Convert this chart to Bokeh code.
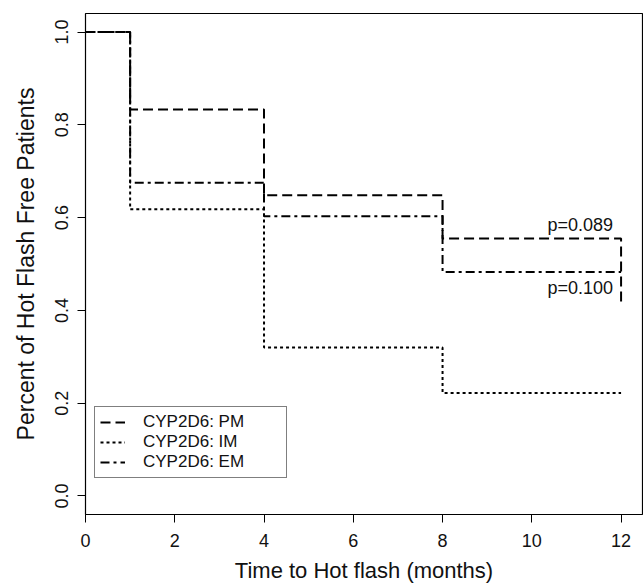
from bokeh.plotting import figure
from bokeh.models import Range1d, FixedTicker, Legend, LegendItem
from bokeh.core.properties import value
from bokeh.embed import file_html
from bokeh.resources import INLINE

# Data (Kaplan-Meier step curves)
times = [0, 1, 4, 8, 12]
pm_surv = [1.0, 0.833, 0.648, 0.555, 0.417]
im_surv = [1.0, 0.618, 0.320, 0.222, 0.222]
em_surv = [1.0, 0.675, 0.603, 0.483, 0.483]
series_labels = ["CYP2D6: PM", "CYP2D6: IM", "CYP2D6: EM"]
pvalue_labels = ["p=0.089", "p=0.100"]
pvalue_y = [0.585, 0.449]
x_ticks = [0, 2, 4, 6, 8, 10, 12]
y_ticks = [0.0, 0.2, 0.4, 0.6, 0.8, 1.0]

FONT = "Liberation Sans"

p = figure(width=643, height=585, output_backend="svg", toolbar_location=None,
           x_range=Range1d(0, 12.48), y_range=Range1d(-0.04, 1.04),
           min_border_left=85, min_border_right=1, min_border_top=13, min_border_bottom=68)

p.background_fill_color = "white"
p.border_fill_color = "white"
p.outline_line_color = "black"
p.outline_line_width = 1.2
p.xgrid.visible = False
p.ygrid.visible = False

for ax in (p.xaxis[0], p.yaxis[0]):
    ax.axis_line_color = None
    ax.major_tick_out = 8
    ax.major_tick_in = 0
    ax.minor_tick_line_color = None
    ax.major_tick_line_color = "black"
    ax.major_label_text_font = FONT
    ax.major_label_text_font_size = "18px"
    ax.major_label_text_color = "#111111"
    ax.axis_label_text_font = FONT
    ax.axis_label_text_font_size = "22px"
    ax.axis_label_text_font_style = "normal"
    ax.axis_label_text_color = "#111111"

p.yaxis.axis_label_text_font_size = "23px"
p.xaxis.ticker = FixedTicker(ticks=x_ticks)
p.yaxis.ticker = FixedTicker(ticks=y_ticks)
p.yaxis.major_label_overrides = {t: f"{t:.1f}" for t in y_ticks}
p.yaxis.major_label_orientation = "vertical"
p.xaxis.axis_label = "Time to Hot flash (months)"
p.yaxis.axis_label = "Percent of Hot Flash Free Patients"
p.xaxis.major_label_standoff = 11
p.xaxis.axis_label_standoff = 8
p.yaxis.major_label_standoff = 9
p.yaxis.axis_label_standoff = 14

r_pm = p.step(times, pm_surv, mode="after", line_color="black", line_width=2, line_dash="10 5")
r_im = p.step(times, im_surv, mode="after", line_color="black", line_width=2, line_dash="3 3")
r_em = p.step(times, em_surv, mode="after", line_color="black", line_width=2, line_dash="9 4 3 4")

p.text(x=[11.82, 11.82], y=pvalue_y, text=pvalue_labels, text_align="right",
       text_baseline="middle", text_font=value(FONT), text_font_size="18px", text_color="#111111")

legend = Legend(items=[LegendItem(label=series_labels[0], renderers=[r_pm]),
                       LegendItem(label=series_labels[1], renderers=[r_im]),
                       LegendItem(label=series_labels[2], renderers=[r_em])],
                location=(9, 36))
legend.border_line_color = "black"
legend.border_line_width = 1
legend.background_fill_color = "white"
legend.label_text_font = FONT
legend.label_text_font_size = "17px"
legend.label_text_color = "#111111"
legend.glyph_width = 25
legend.glyph_height = 20
legend.label_height = 20
legend.label_width = 138
legend.label_standoff = 18
legend.padding = 5
legend.spacing = 0
legend.margin = 0
p.add_layout(legend, "center")

open("out.html", "w").write(file_html(p, INLINE))
